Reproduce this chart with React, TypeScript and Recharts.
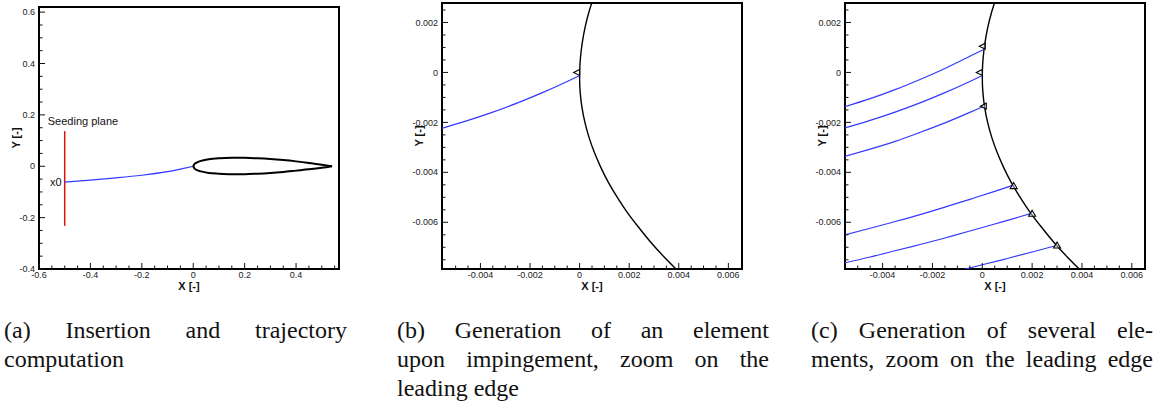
import React from "react";
import {
  ComposedChart,
  Line,
  Scatter,
  XAxis,
  YAxis,
  ReferenceArea,
  ReferenceDot,
} from "recharts";

type Pt = { x: number; y: number };

// ---- panel (a): whole airfoil + one trajectory from the seeding plane
const airfoilUpper: Pt[] = [
  { x: 0, y: 0 }, { x: 0.005, y: 0.009 }, { x: 0.015, y: 0.015 }, { x: 0.03, y: 0.021 },
  { x: 0.06, y: 0.027 }, { x: 0.1, y: 0.031 }, { x: 0.15, y: 0.033 }, { x: 0.2, y: 0.033 },
  { x: 0.25, y: 0.031 }, { x: 0.3, y: 0.028 }, { x: 0.35, y: 0.024 }, { x: 0.4, y: 0.019 },
  { x: 0.45, y: 0.013 }, { x: 0.5, y: 0.006 }, { x: 0.54, y: 0 },
];
const airfoilLower: Pt[] = [
  { x: 0, y: 0 }, { x: 0.005, y: -0.009 }, { x: 0.015, y: -0.015 }, { x: 0.03, y: -0.02 },
  { x: 0.06, y: -0.026 }, { x: 0.1, y: -0.029 }, { x: 0.15, y: -0.031 }, { x: 0.2, y: -0.031 },
  { x: 0.25, y: -0.029 }, { x: 0.3, y: -0.026 }, { x: 0.35, y: -0.022 }, { x: 0.4, y: -0.017 },
  { x: 0.45, y: -0.012 }, { x: 0.5, y: -0.006 }, { x: 0.54, y: 0 },
];
const trajectoryA: Pt[] = [
  { x: -0.5, y: -0.062 }, { x: -0.4, y: -0.054 }, { x: -0.3, y: -0.045 }, { x: -0.2, y: -0.035 },
  { x: -0.1, y: -0.021 }, { x: -0.05, y: -0.011 }, { x: 0, y: 0 },
];
const seedingPlane: Pt[] = [{ x: -0.5, y: -0.232 }, { x: -0.5, y: 0.137 }];

const xTicksA = [-0.6, -0.55, -0.5, -0.45, -0.4, -0.35, -0.3, -0.25, -0.2, -0.15, -0.1, -0.05, 0,
  0.05, 0.1, 0.15, 0.2, 0.25, 0.3, 0.35, 0.4, 0.45, 0.5, 0.55];
const xMajorA = [-0.6, -0.4, -0.2, 0, 0.2, 0.4];
const yTicksA = [-0.4, -0.35, -0.3, -0.25, -0.2, -0.15, -0.1, -0.05, 0, 0.05, 0.1, 0.15, 0.2,
  0.25, 0.3, 0.35, 0.4, 0.45, 0.5, 0.55, 0.6];
const yMajorA = [-0.4, -0.2, 0, 0.2, 0.4, 0.6];

// ---- panels (b), (c): zoom on the leading edge (ordered top -> bottom)
const leadingEdge: Pt[] = [
  { x: 0.00053, y: 0.0029 }, { x: 0.00037, y: 0.0024 }, { x: 0.00022, y: 0.0018 },
  { x: 0.00011, y: 0.0012 }, { x: 0.000035, y: 0.0006 }, { x: 0.000002, y: 0 },
  { x: 0, y: -0.0002 }, { x: 0.000024, y: -0.0008 }, { x: 0.000095, y: -0.0014 },
  { x: 0.000214, y: -0.002 }, { x: 0.00038, y: -0.0026 }, { x: 0.000594, y: -0.0032 },
  { x: 0.000855, y: -0.0038 }, { x: 0.00116, y: -0.0044 }, { x: 0.00152, y: -0.005 },
  { x: 0.00192, y: -0.0056 }, { x: 0.00238, y: -0.0062 }, { x: 0.00287, y: -0.0068 },
  { x: 0.00342, y: -0.0074 }, { x: 0.00402, y: -0.008 },
];
const traj1: Pt[] = [
  { x: -0.0056, y: -0.0014 }, { x: -0.0045, y: -0.00105 }, { x: -0.0035, y: -0.00069 },
  { x: -0.0025, y: -0.00028 }, { x: -0.0015, y: 0.00016 }, { x: -0.0005, y: 0.00065 },
  { x: 0.00004, y: 0.00091 },
];
const traj2: Pt[] = [
  { x: -0.0056, y: -0.00225 }, { x: -0.0045, y: -0.00192 }, { x: -0.0035, y: -0.00159 },
  { x: -0.0025, y: -0.00122 }, { x: -0.0015, y: -0.00081 }, { x: -0.0005, y: -0.00036 },
  { x: -0.00002, y: -0.00013 },
];
const traj3: Pt[] = [
  { x: -0.0056, y: -0.00339 }, { x: -0.0045, y: -0.00307 }, { x: -0.0035, y: -0.00276 },
  { x: -0.0025, y: -0.0024 }, { x: -0.0015, y: -0.00202 }, { x: -0.0005, y: -0.0016 },
  { x: 0.00004, y: -0.00136 },
];
const traj4: Pt[] = [
  { x: -0.0056, y: -0.00653 }, { x: -0.0045, y: -0.00624 }, { x: -0.0035, y: -0.00597 },
  { x: -0.0025, y: -0.00569 }, { x: -0.0015, y: -0.00539 }, { x: -0.0005, y: -0.00508 },
  { x: 0.0005, y: -0.00476 }, { x: 0.00122, y: -0.00452 },
];
const traj5: Pt[] = [
  { x: -0.0056, y: -0.00764 }, { x: -0.0045, y: -0.00739 }, { x: -0.0035, y: -0.00714 },
  { x: -0.0025, y: -0.00689 }, { x: -0.0015, y: -0.00663 }, { x: -0.0005, y: -0.00635 },
  { x: 0.0005, y: -0.00607 }, { x: 0.0015, y: -0.00578 }, { x: 0.002, y: -0.00563 },
];
const traj6: Pt[] = [
  { x: -0.0009, y: -0.00793 }, { x: 0, y: -0.0077 }, { x: 0.001, y: -0.00745 },
  { x: 0.002, y: -0.00719 }, { x: 0.00298, y: -0.00693 },
];
const impactB: Pt[] = [{ x: -0.0001, y: 0 }];
const impactLeft: Pt[] = [
  { x: 0.00002, y: 0.00105 }, { x: -0.0001, y: 0 }, { x: 0.00006, y: -0.00135 },
];
const impactUp: Pt[] = [
  { x: 0.00126, y: -0.00455 }, { x: 0.002, y: -0.00566 }, { x: 0.003, y: -0.00693 },
];

const xTicksZ = [-0.005, -0.0045, -0.004, -0.0035, -0.003, -0.0025, -0.002, -0.0015, -0.001,
  -0.0005, 0, 0.0005, 0.001, 0.0015, 0.002, 0.0025, 0.003, 0.0035, 0.004, 0.0045, 0.005,
  0.0055, 0.006];
const xMajorZ = [-0.004, -0.002, 0, 0.002, 0.004, 0.006];
const yTicksZ = [-0.0075, -0.007, -0.0065, -0.006, -0.0055, -0.005, -0.0045, -0.004, -0.0035,
  -0.003, -0.0025, -0.002, -0.0015, -0.001, -0.0005, 0, 0.0005, 0.001, 0.0015, 0.002, 0.0025];
const yMajorZ = [-0.006, -0.004, -0.002, 0, 0.002];

const SANS = "'Liberation Sans', Arial, Helvetica, sans-serif";
const SERIF = "'Liberation Serif', 'Times New Roman', serif";
const BLUE = "#3538ff";

const fmt = (v: number) => (Math.abs(v) < 1e-12 ? "0" : String(v));
const isMajor = (v: number, majors: number[]) => majors.some((m) => Math.abs(m - v) < 1e-9);

// Tecplot-like ticks: pointing inside the frame, labels only on majors
const xTick = (majors: number[]) => (p: any) => {
  const { x, y, payload } = p;
  const major = isMajor(payload.value, majors);
  return (
    <g>
      <line x1={x} x2={x} y1={y} y2={y - (major ? 6 : 3.5)} stroke="#111" strokeWidth={1} />
      {major && (
        <text x={x} y={y + 2.5} dy="0.71em" textAnchor="middle" fontSize={9} fill="#222" fontFamily={SANS}>
          {fmt(payload.value)}
        </text>
      )}
    </g>
  );
};
const yTick = (majors: number[]) => (p: any) => {
  const { x, y, payload } = p;
  const major = isMajor(payload.value, majors);
  return (
    <g>
      <line x1={x} x2={x + (major ? 6 : 3.5)} y1={y} y2={y} stroke="#111" strokeWidth={1} />
      {major && (
        <text x={x - 4} y={y} dy="0.35em" textAnchor="end" fontSize={9} fill="#222" fontFamily={SANS}>
          {fmt(payload.value)}
        </text>
      )}
    </g>
  );
};

const leftTri = (p: any) => {
  const { cx, cy } = p;
  return (
    <polygon
      points={`${cx - 3.5},${cy} ${cx + 2.5},${cy - 3} ${cx + 2.5},${cy + 3}`}
      fill="#fff" fillOpacity={0.4} stroke="#000" strokeWidth={1.1}
    />
  );
};
const upTri = (p: any) => {
  const { cx, cy } = p;
  return (
    <polygon
      points={`${cx},${cy - 3.5} ${cx - 3.5},${cy + 2.5} ${cx + 3.5},${cy + 2.5}`}
      fill="#fff" fillOpacity={0.4} stroke="#000" strokeWidth={1.1}
    />
  );
};

const Y_AXIS_W = 46;
const X_AXIS_H = 31;

function Panel({
  plotLeft, plotTop, plotW, plotH, xDomain, yDomain, xTicks, xMajor, yTicks, yMajor, children,
}: {
  plotLeft: number; plotTop: number; plotW: number; plotH: number;
  xDomain: [number, number]; yDomain: [number, number];
  xTicks: number[]; xMajor: number[]; yTicks: number[]; yMajor: number[];
  children: React.ReactNode;
}) {
  return (
    <div style={{ position: "absolute", left: plotLeft - Y_AXIS_W, top: 0 }}>
      <ComposedChart
        width={Y_AXIS_W + plotW + 4}
        height={plotTop + plotH + X_AXIS_H}
        margin={{ top: plotTop, right: 4, bottom: 0, left: 0 }}
      >
        <XAxis
          type="number" dataKey="x" domain={xDomain} allowDataOverflow
          ticks={xTicks} interval={0} tickSize={0} tickMargin={0}
          axisLine={false} tickLine={false} height={X_AXIS_H}
          tick={xTick(xMajor)}
          label={{ value: "X [-]", position: "center", dy: 2, fontSize: 11, fontWeight: 700, fill: "#111", fontFamily: SANS }}
        />
        <YAxis
          type="number" dataKey="y" domain={yDomain} allowDataOverflow
          ticks={yTicks} interval={0} tickSize={0} tickMargin={0}
          axisLine={false} tickLine={false} width={Y_AXIS_W}
          tick={yTick(yMajor)}
          label={{ value: "Y [-]", position: "center", angle: -90, fontSize: 11, fontWeight: 700, fill: "#111", fontFamily: SANS }}
        />
        {children}
        <ReferenceArea
          x1={xDomain[0]} x2={xDomain[1]} y1={yDomain[0]} y2={yDomain[1]}
          fill="none" stroke="#000" strokeWidth={2} ifOverflow="visible"
        />
      </ComposedChart>
    </div>
  );
}

const lineProps = { dataKey: "y", dot: false, activeDot: false, isAnimationActive: false } as const;

const captionLine = (text: string, justify: boolean) => (
  <div style={{ textAlign: justify ? "justify" : "left", textAlignLast: justify ? "justify" : "left" } as any}>
    {text}
  </div>
);

export default function App() {
  const capStyle: React.CSSProperties = {
    position: "absolute", top: 316, fontFamily: SERIF, fontSize: 24, lineHeight: "29px", color: "#111",
  };
  return (
    <div style={{ position: "absolute", left: 0, top: 0, width: 1156, height: 402, background: "#fff", overflow: "hidden" }}>
      <Panel
        plotLeft={39} plotTop={7} plotW={300} plotH={262}
        xDomain={[-0.6, 0.567]} yDomain={[-0.4, 0.62]}
        xTicks={xTicksA} xMajor={xMajorA} yTicks={yTicksA} yMajor={yMajorA}
      >
        <Line {...lineProps} data={seedingPlane} type="linear" stroke="#e01010" strokeWidth={1.5} />
        <Line {...lineProps} data={trajectoryA} type="natural" stroke={BLUE} strokeWidth={1.2} />
        <Line {...lineProps} data={airfoilUpper} type="monotoneX" stroke="#000" strokeWidth={2} />
        <Line {...lineProps} data={airfoilLower} type="monotoneX" stroke="#000" strokeWidth={2} />
        <ReferenceDot x={-0.429} y={0.175} r={0} fill="none" stroke="none"
          label={{ value: "Seeding plane", position: "center", fontSize: 11, fill: "#111", fontFamily: SANS }} />
        <ReferenceDot x={-0.535} y={-0.063} r={0} fill="none" stroke="none"
          label={{ value: "x0", position: "center", fontSize: 11, fill: "#111", fontFamily: SANS }} />
      </Panel>

      <Panel
        plotLeft={442} plotTop={3} plotW={300} plotH={266}
        xDomain={[-0.00555, 0.00655]} yDomain={[-0.00787, 0.00278]}
        xTicks={xTicksZ} xMajor={xMajorZ} yTicks={yTicksZ} yMajor={yMajorZ}
      >
        <Line {...lineProps} data={leadingEdge} type="monotoneY" stroke="#000" strokeWidth={1.4} />
        <Line {...lineProps} data={traj2} type="natural" stroke={BLUE} strokeWidth={1.2} />
        <Scatter data={impactB} shape={leftTri} isAnimationActive={false} />
      </Panel>

      <Panel
        plotLeft={845} plotTop={3} plotW={300} plotH={266}
        xDomain={[-0.00551, 0.00653]} yDomain={[-0.00787, 0.00278]}
        xTicks={xTicksZ} xMajor={xMajorZ} yTicks={yTicksZ} yMajor={yMajorZ}
      >
        <Line {...lineProps} data={leadingEdge} type="monotoneY" stroke="#000" strokeWidth={1.4} />
        <Line {...lineProps} data={traj1} type="natural" stroke={BLUE} strokeWidth={1.2} />
        <Line {...lineProps} data={traj2} type="natural" stroke={BLUE} strokeWidth={1.2} />
        <Line {...lineProps} data={traj3} type="natural" stroke={BLUE} strokeWidth={1.2} />
        <Line {...lineProps} data={traj4} type="natural" stroke={BLUE} strokeWidth={1.2} />
        <Line {...lineProps} data={traj5} type="natural" stroke={BLUE} strokeWidth={1.2} />
        <Line {...lineProps} data={traj6} type="natural" stroke={BLUE} strokeWidth={1.2} />
        <Scatter data={impactLeft} shape={leftTri} isAnimationActive={false} />
        <Scatter data={impactUp} shape={upTri} isAnimationActive={false} />
      </Panel>

      <div style={{ ...capStyle, left: 4, width: 343 }}>
        {captionLine("(a) Insertion and trajectory", true)}
        {captionLine("computation", false)}
      </div>
      <div style={{ ...capStyle, left: 397, width: 372 }}>
        {captionLine("(b) Generation of an element", true)}
        {captionLine("upon impingement, zoom on the", true)}
        {captionLine("leading edge", false)}
      </div>
      <div style={{ ...capStyle, left: 811, width: 342 }}>
        {captionLine("(c) Generation of several ele-", true)}
        {captionLine("ments, zoom on the leading edge", true)}
      </div>
    </div>
  );
}
